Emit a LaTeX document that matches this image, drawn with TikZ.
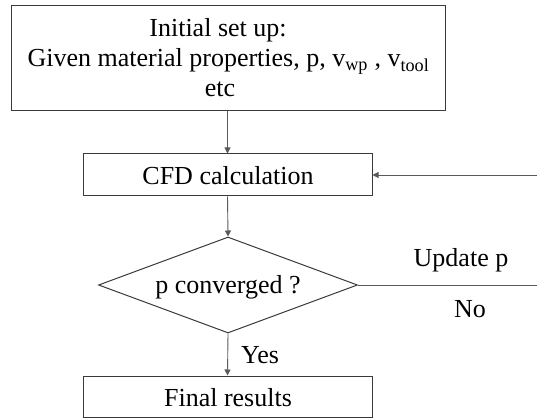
\documentclass[tikz,border=0pt]{standalone}
\usepackage{fontspec}
\setmainfont{Liberation Serif}
\usetikzlibrary{shapes.geometric,arrows.meta}
\definecolor{boxline}{HTML}{3A3A3A}
\definecolor{arrowline}{HTML}{5A5A5A}
\tikzset{
  procbox/.style={draw=boxline, line width=1pt, inner sep=0pt},
  decbox/.style={draw=boxline, line width=1pt, diamond, inner sep=0pt},
  flowarrow/.style={draw=arrowline, line width=0.9pt, -{Triangle[length=6pt,width=6pt]}},
  flowline/.style={draw=arrowline, line width=0.9pt},
  txt/.style={font=\fontsize{26}{30}\selectfont, text=black, inner sep=0pt},
}
\begin{document}
\begin{tikzpicture}[x=1pt,y=-1pt]
\useasboundingbox (0,0) rectangle (537,419);
% boxes
\node[procbox, minimum width=434pt, minimum height=105pt] (setup) at (228,58.5) {};
\node[procbox, minimum width=289pt, minimum height=42pt] (cfd) at (227.5,175) {};
\node[decbox, minimum width=259pt, minimum height=96pt, shape aspect=2.7] (conv) at (228,285) {};
\node[procbox, minimum width=289pt, minimum height=41pt] (final) at (227.5,396.5) {};
% texts
\node[txt, anchor=base] (l1) at (218,37) {Initial set up:};
\node[txt, anchor=base] (l2) at (228.5,67) {Given material properties, p, v\textsubscript{wp} , v\textsubscript{tool}};
\node[txt, anchor=base] (l3) at (220,97) {etc};
\node[txt, anchor=base] (cfdt) at (228,185) {CFD calculation};
\node[txt, anchor=base] (convt) at (228,293) {p converged ?};
\node[txt, anchor=base] (finalt) at (228,406) {Final results};
\node[txt, anchor=base] (yes) at (260,363) {Yes};
\node[txt, anchor=base] (upd) at (461,266) {Update p};
\node[txt, anchor=base] (no) at (470,317) {No};
% free ends
\coordinate (rin) at (537,175);
\coordinate (rout) at (537,285);
% connectors
\draw[flowarrow] (setup.south -| cfd.north) -- (cfd.north);
\draw[flowarrow] (cfd.south) -- (conv.north);
\draw[flowarrow] (conv.south) -- (final.north);
\draw[flowline] (conv.east) -- (rout);
\draw[flowarrow] (rin) -- (cfd.east);
\end{tikzpicture}
\end{document}
